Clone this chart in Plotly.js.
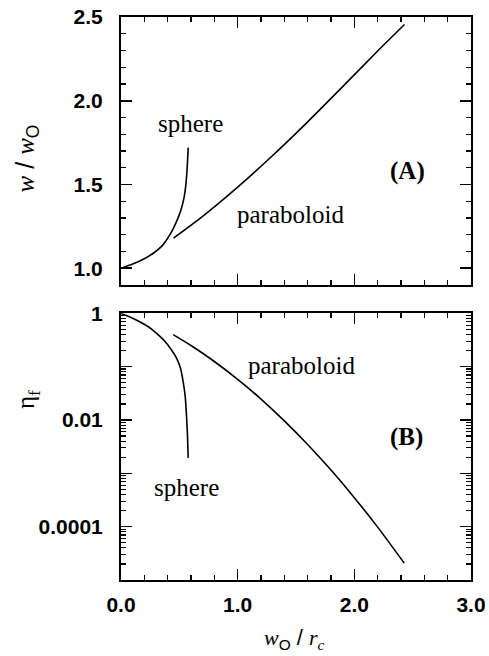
<!DOCTYPE html>
<html><head><meta charset="utf-8">
<script src="https://cdn.plot.ly/plotly-3.0.1.min.js"></script>
<style>html,body{margin:0;padding:0;background:#fff}#chart{width:489px;height:656px}</style>
</head><body><div id="chart"></div>
<script>
// Panel A: w / w0 vs w0 / rc
const sphereA_x = [0, 0.1, 0.2, 0.28, 0.35, 0.38, 0.41, 0.45, 0.49, 0.52, 0.54, 0.553, 0.563, 0.57, 0.576];
const sphereA_y = [1.0, 1.025, 1.057, 1.091, 1.132, 1.158, 1.19, 1.24, 1.302, 1.363, 1.42, 1.48, 1.555, 1.635, 1.72];
const paraA_x = [0.45, 0.7, 1.0, 1.3, 1.6, 1.9, 2.2, 2.43];
const paraA_y = [1.18, 1.31, 1.484, 1.673, 1.874, 2.084, 2.297, 2.455];
// Panel B: eta_f vs w0 / rc
const sphereB_x = [0, 0.034, 0.1, 0.234, 0.3, 0.376, 0.43, 0.476, 0.51, 0.533, 0.55, 0.561, 0.57, 0.576];
const sphereB_y = [1, 0.93, 0.81, 0.56, 0.43, 0.30, 0.21, 0.145, 0.093, 0.052, 0.028, 0.0126, 0.005, 0.00195];
const paraB_x = [0.447, 0.6, 0.8, 1.0, 1.2, 1.4, 1.6, 1.8, 2.0, 2.2, 2.427];
const paraB_y = [0.398, 0.249, 0.125, 0.0579, 0.0247, 0.00964, 0.00347, 0.00115, 0.00035, 0.000098, 0.0000208];
// Tick labels
const xTickVals = [0, 1, 2, 3];
const yATickVals = [1.0, 1.5, 2.0, 2.5];
const yBTickVals = [1e-5, 1e-4, 1e-3, 1e-2, 1e-1, 1];
const yBTickText = ['', '0.0001', '', '0.01', '', '1'];

const minorLog = [];
for (let e = -5; e < 0; e++) for (let m = 2; m <= 9; m++) minorLog.push(m * Math.pow(10, e));

const lineStyle = {color: '#000', width: 1.6, shape: 'spline', smoothing: 0.7};
const traces = [
  {x: sphereA_x, y: sphereA_y, xaxis: 'x', yaxis: 'y', mode: 'lines', line: lineStyle},
  {x: paraA_x, y: paraA_y, xaxis: 'x', yaxis: 'y', mode: 'lines', line: lineStyle},
  {x: sphereB_x, y: sphereB_y, xaxis: 'x2', yaxis: 'y2', mode: 'lines', line: lineStyle},
  {x: paraB_x, y: paraB_y, xaxis: 'x2', yaxis: 'y2', mode: 'lines', line: lineStyle}
];

const tickFont = {family: 'Liberation Sans, Arial, sans-serif', size: 21, color: '#000', weight: 'bold'};
const common = {
  showline: true, linecolor: '#000', linewidth: 2, mirror: 'allticks',
  ticks: 'inside', ticklen: 11, tickwidth: 1.6, tickcolor: '#000',
  showgrid: false, zeroline: false, tickfont: tickFont
};
const xCommon = Object.assign({}, common, {
  range: [0, 3], tickmode: 'array', tickvals: xTickVals, tickformat: '.1f',
  minor: {dtick: 0.2, tick0: 0, ticks: 'inside', ticklen: 5, tickwidth: 1.4, tickcolor: '#000', showgrid: false}
});

const serif = 'Liberation Serif, Times New Roman, serif';
const ann = (x, y, xr, yr, text, size, bold) => ({
  x, y, xref: xr, yref: yr, text, showarrow: false, xanchor: 'center', yanchor: 'middle',
  font: {family: serif, size, color: '#000', weight: bold ? 'bold' : 'normal'}
});

const layout = {
  width: 489, height: 656, showlegend: false,
  paper_bgcolor: '#fff', plot_bgcolor: '#fff',
  margin: {l: 121, r: 18, t: 17, b: 76},
  xaxis: Object.assign({}, xCommon, {anchor: 'y', showticklabels: false}),
  xaxis2: Object.assign({}, xCommon, {anchor: 'y2', ticklabelstandoff: 5}),
  yaxis: Object.assign({}, common, {
    domain: [0.524, 1], range: [0.9, 2.5], tickmode: 'array', tickvals: yATickVals, tickformat: '.1f',
    ticklabelstandoff: 12,
    minor: {dtick: 0.1, tick0: 0, ticks: 'inside', ticklen: 5, tickwidth: 1.4, tickcolor: '#000', showgrid: false}
  }),
  yaxis2: Object.assign({}, common, {
    type: 'log', domain: [0, 0.4737], range: [-5, 0], tickmode: 'array', tickvals: yBTickVals, ticktext: yBTickText,
    ticklabelstandoff: 12,
    minor: {tickmode: 'array', tickvals: minorLog, ticks: 'inside', ticklen: 5, tickwidth: 1.2, tickcolor: '#000', showgrid: false}
  }),
  annotations: [
    ann(0.598, 1.862, 'x', 'y', 'sphere', 25),
    ann(1.453, 1.322, 'x', 'y', 'paraboloid', 25),
    ann(2.453, 1.58, 'x', 'y', '(A)', 25, true),
    ann(2.444, -2.32, 'x2', 'y2', '(B)', 25, true),
    ann(1.547, -0.97, 'x2', 'y2', 'paraboloid', 25),
    ann(0.564, -3.26, 'x2', 'y2', 'sphere', 25),
    Object.assign(ann(-0.27, 0.748, 'paper', 'paper',
      '<i>w</i><span style="font-family:Liberation Sans"> / </span><i>w</i><sub><span style="font-family:Liberation Sans">O</span></sub>', 25), {textangle: -90}),
    Object.assign(ann(-0.265, 0.32, 'paper', 'paper', 'η<sub>f</sub>', 25), {textangle: -90}),
    ann(0.497, -0.104, 'paper', 'paper',
      '<i>w</i><sub><span style="font-family:Liberation Sans">O</span></sub><span style="font-family:Liberation Sans"> / </span><i>r</i><sub><i>c</i></sub>', 22)
  ]
};

Plotly.newPlot('chart', traces, layout, {displayModeBar: false, staticPlot: true});
</script>
</body></html>
